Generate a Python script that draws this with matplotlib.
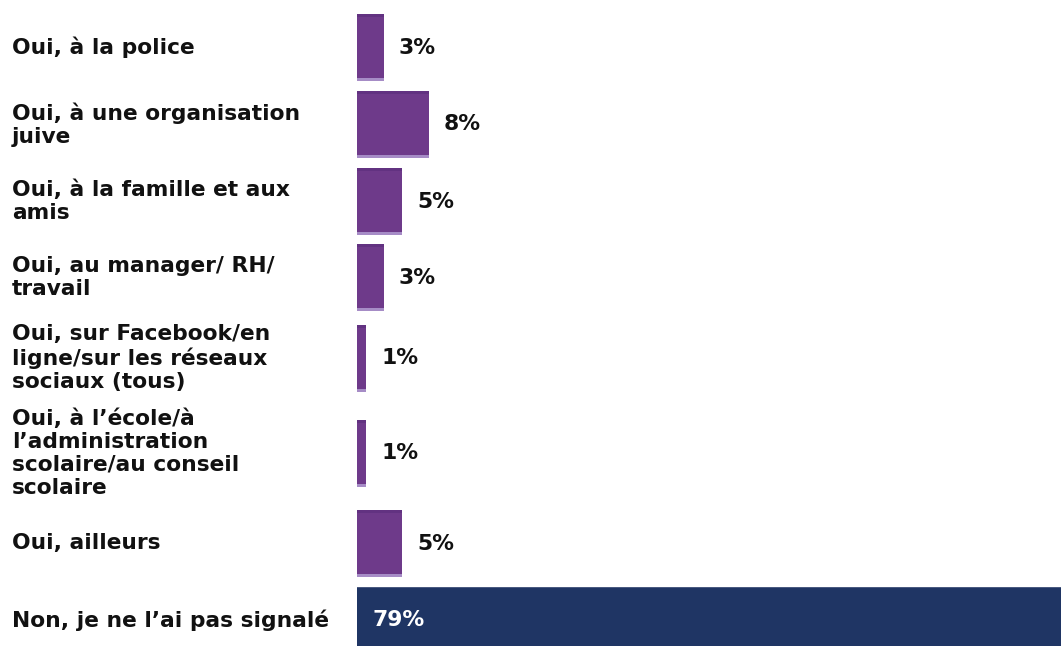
import matplotlib.pyplot as plt

# Données
categories = [
    "Oui, à la police",
    "Oui, à une organisation\njuive",
    "Oui, à la famille et aux\namis",
    "Oui, au manager/ RH/\ntravail",
    "Oui, sur Facebook/en\nligne/sur les réseaux\nsociaux (tous)",
    "Oui, à l’école/à\nl’administration\nscolaire/au conseil\nscolaire",
    "Oui, ailleurs",
    "Non, je ne l’ai pas signalé",
]
values = [3, 8, 5, 3, 1, 1, 5, 79]
labels = ["3%", "8%", "5%", "3%", "1%", "1%", "5%", "79%"]

# Mise en page (pixels de la figure)
W, H = 1061, 646
x0 = 357
px_per_pct = 9.0
centres = [47.5, 124.5, 201.5, 277.5, 358, 453, 543.5, 620.5]
bar_h = 67

purple = "#6e3a8a"
purple_top = "#623281"
purple_bottom = "#a68cc6"
navy = "#1f3564"

fig = plt.figure(figsize=(W / 100, H / 100), dpi=100)
ax = fig.add_axes([x0 / W, 0, 1 - x0 / W, 1])
ax.set_xlim(0, (W - x0) / px_per_pct)
ax.set_ylim(H, 0)
ax.axis("off")

colors = [purple] * 7 + [navy]
ax.barh(centres, values, height=bar_h, color=colors, linewidth=0)

# liseré haut et bas des barres violettes
top_y = [c - bar_h / 2 + 1.5 for c in centres[:7]]
bot_y = [c + bar_h / 2 - 1.5 for c in centres[:7]]
ax.barh(top_y, values[:7], height=3, color=purple_top, linewidth=0)
ax.barh(bot_y, values[:7], height=3, color=purple_bottom, linewidth=0)
ax.barh([centres[7] - bar_h / 2 + 0.5], values[7:], height=1.5, color="#4a5a80", linewidth=0)

font = ["DejaVu Sans"]
fs = 15.7
for c, txt in zip(centres, categories):
    fig.text(12 / W, 1 - c / H, txt, ha="left", va="center", fontsize=fs,
             fontweight="bold", color="#111111", linespacing=1.18, family=font)

for i, (c, v, lab) in enumerate(zip(centres, values, labels)):
    if i == len(values) - 1:
        ax.text(15 / px_per_pct, c, lab, ha="left", va="center", fontsize=fs,
                fontweight="bold", color="white", family=font)
    else:
        ax.text(v + 15 / px_per_pct, c, lab, ha="left", va="center", fontsize=fs,
                fontweight="bold", color="#111111", family=font)

fig.savefig("out.png", dpi=100)
